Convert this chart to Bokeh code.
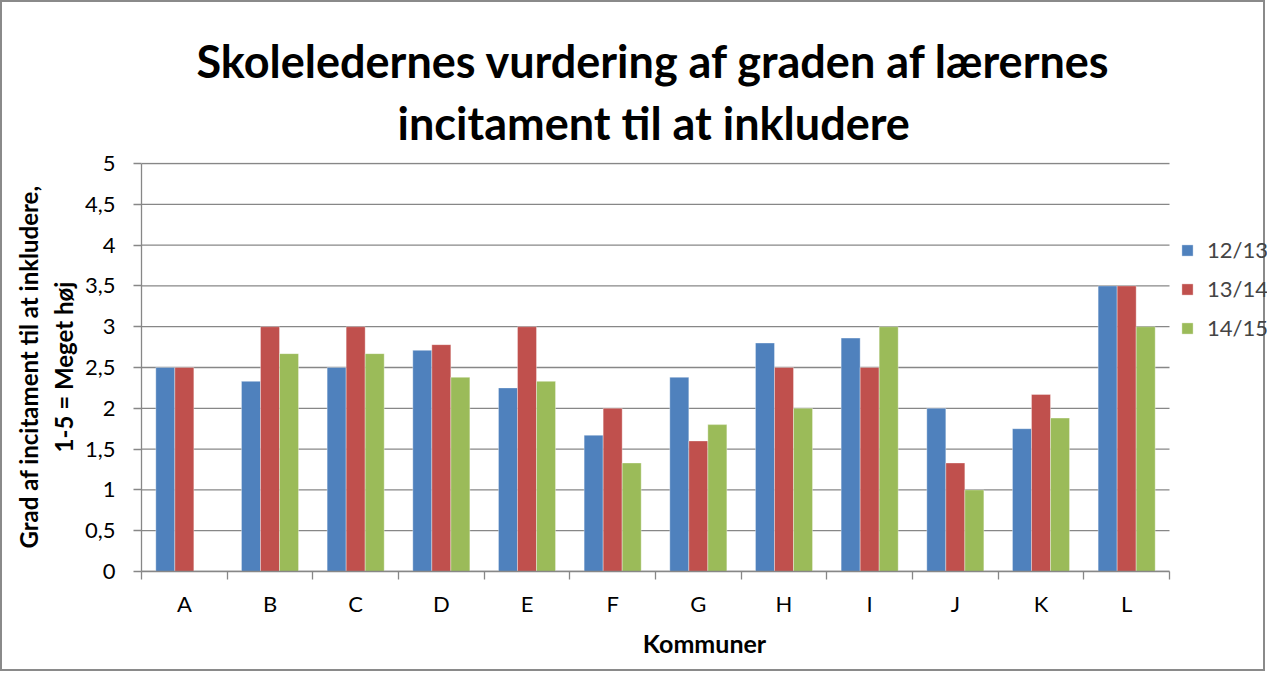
import numpy as np
from bokeh.plotting import figure
from bokeh.models import (FixedTicker, CustomJSTickFormatter, Legend, LegendItem,
                          Title, Range1d)
from bokeh.embed import file_html
from bokeh.resources import INLINE

categories = ["A", "B", "C", "D", "E", "F", "G", "H", "I", "J", "K", "L"]
series_names = ["12/13", "13/14", "14/15"]
v_12_13 = [2.5, 2.33, 2.5, 2.71, 2.25, 1.67, 2.38, 2.8, 2.86, 2.0, 1.75, 3.5]
v_13_14 = [2.5, 3.0, 3.0, 2.78, 3.0, 2.0, 1.6, 2.5, 2.5, 1.33, 2.17, 3.5]
v_14_15 = [None, 2.67, 2.67, 2.38, 2.33, 1.33, 1.8, 2.0, 3.0, 1.0, 1.88, 3.0]
y_ticks = [0, 0.5, 1, 1.5, 2, 2.5, 3, 3.5, 4, 4.5, 5]

title_lines = ["Skoleledernes vurdering af graden af lærernes", "incitament til at inkludere"]
y_label = "Grad af incitament til at inkludere,\n1-5 = Meget høj"
x_label = "Kommuner"

colors = ["#4F81BD", "#C0504D", "#9BBB59"]
FONT = "Lato"
GRID = "#878787"

# layout (pixels)
W, H = 1265, 671
LEFT, TOP, BOTTOM, RIGHT = 139, 160, 102, 0
plot_px_w = 1028.0          # width of the 12 categories
plot_px_h = 408.0           # height of 0..5
n = len(categories)
frame_w = W - LEFT - RIGHT
x_end = frame_w / (plot_px_w / n)
y_end = 5 + 1.0 / (plot_px_h / 5)

p = figure(width=W, height=H, output_backend="svg", toolbar_location=None,
           title=None,
           x_range=Range1d(0, x_end), y_range=Range1d(0, y_end),
           min_border_left=LEFT, min_border_right=RIGHT,
           min_border_top=TOP, min_border_bottom=BOTTOM)
p.styles = {"border": "2px solid #8a8a8a"}
p.outline_line_color = None
p.background_fill_color = "white"
p.border_fill_color = "white"

# titles (first added is closest to the plot)
for txt, so, off in zip(reversed(title_lines), [26, -15], [256, 55]):
    t = Title(text=txt, align="left", offset=off, text_font=FONT, text_font_size="45px",
              text_font_style="bold", text_color="black", standoff=so)
    p.add_layout(t, "above")

# horizontal gridlines, limited to the category area
p.xgrid.visible = False
p.ygrid.visible = False
p.segment(x0=[0] * len(y_ticks), x1=[n] * len(y_ticks), y0=y_ticks, y1=y_ticks,
          line_color=GRID, line_width=1.3)

centers = np.arange(n) + 0.5
bw = 0.222
offsets = [-bw, 0.0, bw]
series = [v_12_13, v_13_14, v_14_15]
renderers = []
for vals, off, c in zip(series, offsets, colors):
    top = np.array([np.nan if v is None else v for v in vals], dtype=float)
    r = p.vbar(x=centers + off, top=top, width=bw, bottom=0,
               fill_color=c, line_color="white", line_alpha=0.35, line_width=1)
    renderers.append(r)

# y axis
ya = p.yaxis[0]
ya.ticker = FixedTicker(ticks=y_ticks)
ya.bounds = (0, 5)
ya.formatter = CustomJSTickFormatter(code="return String(tick).replace('.', ',');")
ya.axis_line_color = GRID
ya.axis_line_width = 1.3
ya.major_tick_line_color = GRID
ya.major_tick_line_width = 1.3
ya.major_tick_out = 8
ya.major_tick_in = 0
ya.minor_tick_line_color = None
ya.major_label_text_font = FONT
ya.major_label_text_font_size = "22px"
ya.major_label_text_color = "black"
ya.major_label_standoff = 18
ya.axis_label = y_label
ya.axis_label_text_font = FONT
ya.axis_label_text_font_size = "24px"
ya.axis_label_text_font_style = "bold"
ya.axis_label_text_color = "black"
ya.axis_label_standoff = 4

# x axis
xa = p.xaxis[0]
xa.bounds = (0, n)
xa.ticker = FixedTicker(ticks=list(centers), minor_ticks=list(range(n + 1)))
xa.formatter = CustomJSTickFormatter(args=dict(cats=categories),
                                     code="return cats[Math.floor(tick)];")
xa.axis_line_color = GRID
xa.axis_line_width = 1.3
xa.major_tick_line_color = None
xa.major_tick_out = 0
xa.major_tick_in = 0
xa.minor_tick_line_color = GRID
xa.minor_tick_line_width = 1.3
xa.minor_tick_out = 8
xa.minor_tick_in = 0
xa.major_label_text_font = FONT
xa.major_label_text_font_size = "22px"
xa.major_label_text_color = "black"
xa.major_label_standoff = 10
xa.axis_label = x_label
xa.axis_label_text_font = FONT
xa.axis_label_text_font_size = "25px"
xa.axis_label_text_font_style = "bold"
xa.axis_label_text_color = "black"
xa.axis_label_standoff = 8

legend = Legend(items=[LegendItem(label=s, renderers=[r]) for s, r in zip(series_names, renderers)],
                location=(1039, 230), orientation="vertical",
                glyph_width=14, glyph_height=14, label_standoff=13,
                label_text_font=FONT, label_text_font_size="22px",
                label_height=27, spacing=12, padding=0, margin=0,
                border_line_color=None, background_fill_alpha=0)
p.add_layout(legend)

open("out.html", "w").write(file_html(p, INLINE))
